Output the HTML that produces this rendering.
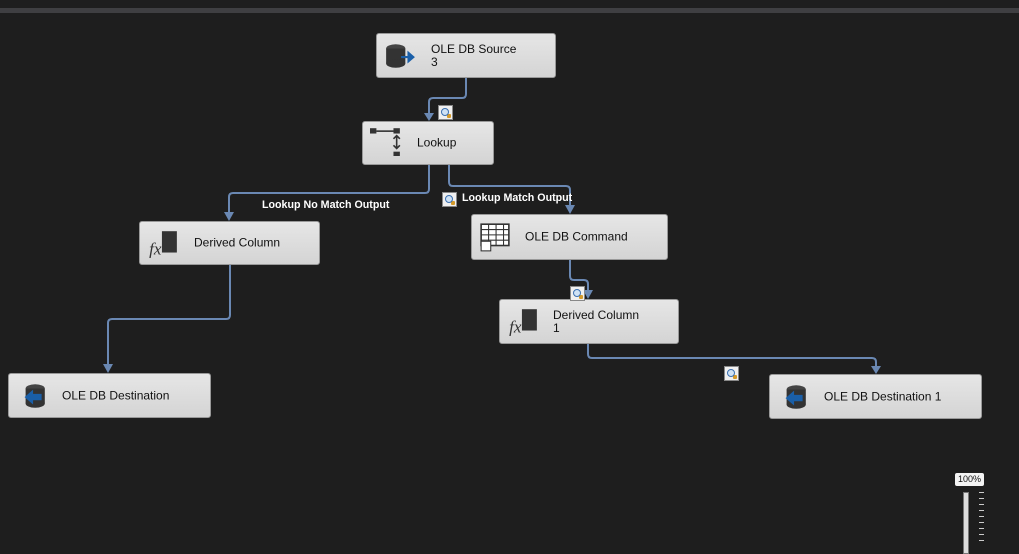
<!DOCTYPE html>
<html><head><style>
body{margin:0;width:1019px;height:546px;background:#1e1e1e;position:relative;overflow:hidden;font-family:"Liberation Sans",sans-serif}
.bar{position:absolute;left:0;top:8px;width:1019px;height:5px;background:#3f3f42}
.n{position:absolute;background:linear-gradient(#e6e6e6,#d4d4d4);border:1px solid #999;border-radius:3px;box-sizing:border-box;font-size:12px;color:#111}
.n .t{position:absolute;top:50%;transform:translateY(-50%);line-height:13px}
.ic{position:absolute;left:7px;top:7px;width:32px;height:30px}
.mg{position:absolute;width:15px;height:15px;background:#f0f0f0;border:1px solid #888;box-sizing:border-box}
.mg:after{content:"";position:absolute;left:2px;top:2px;width:6px;height:6px;border:1.5px solid #3a6fb0;border-radius:50%;background:#cfe2f5}
.mg:before{content:"";position:absolute;left:8px;top:8px;width:4px;height:4px;background:#d49a2a;border-radius:1px}
.lbl{position:absolute;color:#fff;font-size:11px;font-weight:bold;transform:scaleX(0.97);transform-origin:left}
</style></head><body>
<div class="bar"></div>
<svg width="1019" height="546" style="position:absolute;left:0;top:0">
<g fill="none" stroke="#6a88b3" stroke-width="2">
<path d="M466,78 V94 Q466,98 462,98 H433 Q429,98 429,102 V114"/>
<path d="M429,165 V189 Q429,193 425,193 H233 Q229,193 229,197 V214"/>
<path d="M449,165 V182 Q449,186 453,186 H566 Q570,186 570,190 V207"/>
<path d="M570,260 V276 Q570,280 574,280 H584 Q588,280 588,284 V292"/>
<path d="M230,265 V315 Q230,319 226,319 H112 Q108,319 108,323 V366"/>
<path d="M588,344 V354 Q588,358 592,358 H872 Q876,358 876,362 V367"/>
</g>
<g fill="#6a88b3">
<path d="M424,113 L434,113 L429,121z"/><path d="M224,212 L234,212 L229,221z"/>
<path d="M565,205 L575,205 L570,214z"/><path d="M583,290 L593,290 L588,299z"/>
<path d="M103,364 L113,364 L108,373z"/><path d="M871,366 L881,366 L876,374z"/>
</g>
</svg>
<div class="n" style="left:376px;top:33px;width:180px;height:45px">
<svg class="ic" viewBox="0 0 30 28"><ellipse cx="11" cy="7" rx="9" ry="4" fill="#444"/><rect x="2" y="7" width="18" height="14" fill="#333"/><ellipse cx="11" cy="21" rx="9" ry="4" fill="#333"/><path d="M16,14 h6 v-5 l7,6 -7,6 v-5 h-6z" fill="#1a5fa8"/></svg>
<div class="t" style="left:54px">OLE DB Source<br>3</div></div>
<div class="n" style="left:362px;top:121px;width:132px;height:44px">
<svg class="ic" viewBox="0 0 30 28" style="top:4px"><rect x="0" y="2" width="6" height="5" fill="#333"/><rect x="22" y="2" width="6" height="5" fill="#333"/><rect x="6" y="4" width="16" height="1.5" fill="#333"/><path d="M25,9 v12 M22,12 l3,-3 3,3 M22,18 l3,3 3,-3" stroke="#333" stroke-width="1.5" fill="none"/><rect x="22" y="24" width="6" height="5" fill="#333"/></svg>
<div class="t" style="left:54px">Lookup</div></div>
<div class="n" style="left:139px;top:221px;width:181px;height:44px">
<svg class="ic" viewBox="0 0 30 28"><rect x="14" y="2" width="14" height="20" fill="#333"/><text x="2" y="24" font-family="Liberation Serif" font-style="italic" font-size="16" fill="#333">fx</text></svg>
<div class="t" style="left:54px">Derived Column</div></div>
<div class="n" style="left:471px;top:214px;width:197px;height:46px">
<svg class="ic" viewBox="0 0 30 28"><rect x="2" y="2" width="26" height="20" fill="#fff" stroke="#333" stroke-width="1.5"/><path d="M2,7h26M2,12h26M2,17h26M9,2v20M16,2v20M23,2v20" stroke="#333"/><rect x="2" y="18" width="9" height="9" fill="#fff" stroke="#333"/></svg>
<div class="t" style="left:53px">OLE DB Command</div></div>
<div class="n" style="left:499px;top:299px;width:180px;height:45px">
<svg class="ic" viewBox="0 0 30 28"><rect x="14" y="2" width="14" height="20" fill="#333"/><text x="2" y="24" font-family="Liberation Serif" font-style="italic" font-size="16" fill="#333">fx</text></svg>
<div class="t" style="left:53px">Derived Column<br>1</div></div>
<div class="n" style="left:8px;top:373px;width:203px;height:45px">
<svg class="ic" viewBox="0 0 30 28"><ellipse cx="18" cy="7" rx="9" ry="4" fill="#444"/><rect x="9" y="7" width="18" height="14" fill="#333"/><ellipse cx="18" cy="21" rx="9" ry="4" fill="#333"/><path d="M24,12 h-8 v-4 l-8,7 8,7 v-4 h8z" fill="#1a5fa8"/></svg>
<div class="t" style="left:53px">OLE DB Destination</div></div>
<div class="n" style="left:769px;top:374px;width:213px;height:45px">
<svg class="ic" viewBox="0 0 30 28"><ellipse cx="18" cy="7" rx="9" ry="4" fill="#444"/><rect x="9" y="7" width="18" height="14" fill="#333"/><ellipse cx="18" cy="21" rx="9" ry="4" fill="#333"/><path d="M24,12 h-8 v-4 l-8,7 8,7 v-4 h8z" fill="#1a5fa8"/></svg>
<div class="t" style="left:54px">OLE DB Destination 1</div></div>
<div class="mg" style="left:438px;top:105px"></div>
<div class="mg" style="left:442px;top:192px"></div>
<div class="mg" style="left:570px;top:286px"></div>
<div class="mg" style="left:724px;top:366px"></div>
<div class="lbl" style="left:262px;top:199px">Lookup No Match Output</div>
<div class="lbl" style="left:462px;top:192px">Lookup Match Output</div>
<div style="position:absolute;left:955px;top:473px;width:29px;height:13px;background:#f4f4f4;border-radius:2px;font-size:9px;text-align:center;line-height:13px;color:#111">100%</div>
<div style="position:absolute;left:963px;top:492px;width:4px;height:60px;background:#ddd;border:1px solid #777"></div>
<div style="position:absolute;left:979px;top:492px;width:5px;height:54px;background:repeating-linear-gradient(#ccc 0 1px,transparent 1px 6px)"></div>
</body></html>
